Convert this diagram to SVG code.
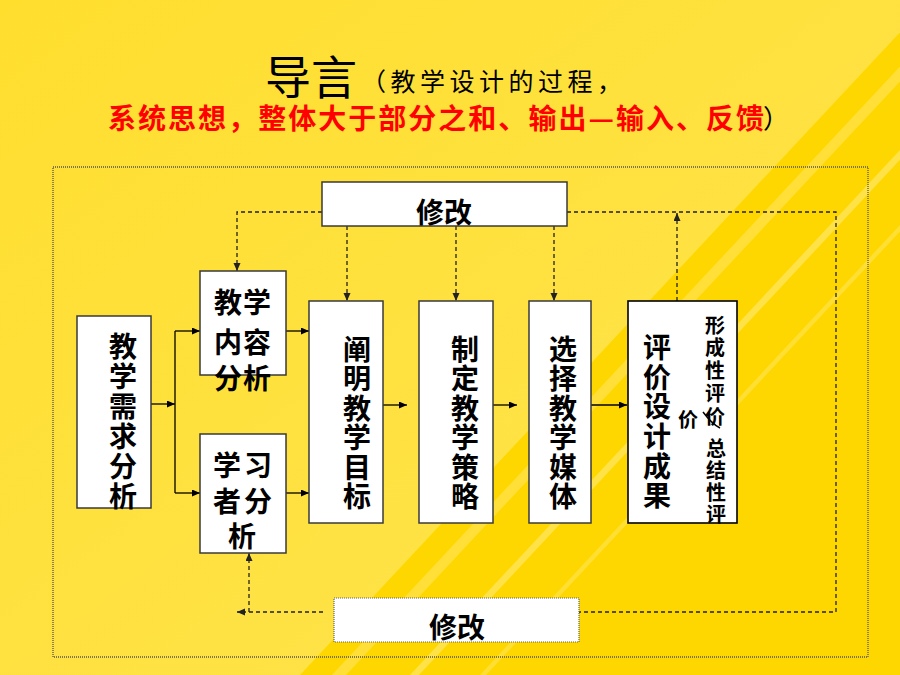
<svg xmlns="http://www.w3.org/2000/svg" width="900" height="675" viewBox="0 0 900 675">
<defs>
<linearGradient id="lightGrad" x1="0" y1="0" x2="1" y2="1">
<stop offset="0" stop-color="#FFDE2E"/>
<stop offset="1" stop-color="#FEE552"/>
</linearGradient>
<marker id="arr" markerUnits="userSpaceOnUse" markerWidth="9" markerHeight="8" refX="8" refY="3.5" orient="auto">
<path d="M0,0 L8,3.5 L0,7 Z" fill="#000"/>
</marker>
<marker id="arrd" markerUnits="userSpaceOnUse" markerWidth="9" markerHeight="8" refX="8" refY="3.5" orient="auto">
<path d="M0,0 L8,3.5 L0,7 Z" fill="#222"/>
</marker>
</defs>
<style>
.box{fill:#fff;stroke:#3a3a3a;stroke-width:1.5}
.boxb{fill:#fff;stroke:#000;stroke-width:1.6}
.boxd{fill:#fff;stroke:#666;stroke-width:1.2;stroke-dasharray:1 1}
.t{font-family:"Noto Sans CJK SC","Noto Sans CJK JP",sans-serif;font-weight:bold;fill:#000;text-anchor:middle;dominant-baseline:central}
.b28{font-size:28px}
.s20{font-size:20px}
.solid{fill:none;stroke:#000;stroke-width:1.3}
.dash{fill:none;stroke:#222;stroke-width:1.3;stroke-dasharray:4 3}
</style>
<rect width="900" height="675" fill="#FFD700"/>
<polygon points="0,0 930,0 300,675 0,675" fill="url(#lightGrad)"/>
<polygon points="962,0 976,0 346,675 332,675" fill="#fff" opacity="0.22"/>
<polygon points="1040,0 1049,0 419,675 410,675" fill="#fff" opacity="0.28"/>
<polygon points="1110,0 1116,0 486,675 480,675" fill="#fff" opacity="0.2"/>

<g id="title">
<text x="265" y="94" font-family="Noto Sans CJK SC,sans-serif" font-size="46" fill="#000">导言</text>
<text x="361" y="91" font-family="Noto Sans CJK SC,sans-serif" font-size="25" fill="#000" textLength="261" lengthAdjust="spacing">（教学设计的过程，</text>
<text x="108" y="129" font-family="Noto Sans CJK SC,sans-serif" font-size="28" font-weight="bold" fill="#FF0000" textLength="656" lengthAdjust="spacing">系统思想，整体大于部分之和、输出—输入、反馈</text>
<text x="763" y="128" font-family="Noto Sans CJK SC,sans-serif" font-size="26" fill="#000">）</text>
</g>

<rect id="frame" x="53" y="167" width="815" height="490" fill="none" stroke="#555" stroke-width="1.3" stroke-dasharray="1 1"/>

<g id="connectors">
<path class="solid" d="M151,404 H175" marker-end="url(#arr)"/>
<path class="solid" d="M175,331 V493"/>
<path class="solid" d="M175,331 H200" marker-end="url(#arr)"/>
<path class="solid" d="M175,493 H200" marker-end="url(#arr)"/>
<path class="solid" d="M286,331 H309" marker-end="url(#arr)"/>
<path class="solid" d="M286,493 H309" marker-end="url(#arr)"/>
<path class="solid" d="M383,405 H407" marker-end="url(#arr)"/>
<path class="solid" d="M493,405 H517" marker-end="url(#arr)"/>
<path class="solid" d="M591,405 H627" marker-end="url(#arr)"/>
<path class="dash" d="M322,212 H237 V271" marker-end="url(#arrd)"/>
<path class="dash" d="M347,226 V301" marker-end="url(#arrd)"/>
<path class="dash" d="M456,226 V301" marker-end="url(#arrd)"/>
<path class="dash" d="M554,226 V301" marker-end="url(#arrd)"/>
<path class="dash" d="M567,212 H836 V612 H579"/>
<path class="dash" d="M677,301 V213" marker-end="url(#arrd)"/>
<path class="dash" d="M323,612 H237" marker-end="url(#arrd)"/>
<path class="dash" d="M249,612 V553" marker-end="url(#arrd)"/>
</g>

<g id="revise-top">
<rect class="box" x="322" y="182" width="245" height="44"/>
<text class="t b28" x="444" y="211">修改</text>
</g>

<g id="needs">
<rect class="box" x="77" y="316" width="74" height="192"/>
<text class="t b28"><tspan x="123" y="345">教</tspan><tspan x="123" y="375">学</tspan><tspan x="123" y="405">需</tspan><tspan x="123" y="435">求</tspan><tspan x="123" y="465">分</tspan><tspan x="123" y="495">析</tspan></text>
</g>

<g id="content">
<rect class="box" x="200" y="271" width="86" height="104"/>
<text class="t b28"><tspan x="228" y="301">教</tspan><tspan x="257" y="301">学</tspan><tspan x="228" y="341">内</tspan><tspan x="257" y="341">容</tspan><tspan x="228" y="377">分</tspan><tspan x="257" y="377">析</tspan></text>
</g>

<g id="learner">
<rect class="box" x="200" y="434" width="86" height="119"/>
<text class="t b28"><tspan x="227" y="464">学</tspan><tspan x="258" y="464">习</tspan><tspan x="227" y="500">者</tspan><tspan x="258" y="500">分</tspan><tspan x="242" y="535">析</tspan></text>
</g>

<g id="objectives">
<rect class="box" x="309" y="301" width="74" height="222"/>
<text class="t b28"><tspan x="357" y="348">阐</tspan><tspan x="357" y="377">明</tspan><tspan x="357" y="407">教</tspan><tspan x="357" y="436">学</tspan><tspan x="357" y="466">目</tspan><tspan x="357" y="495">标</tspan></text>
</g>

<g id="strategy">
<rect class="box" x="419" y="301" width="74" height="222"/>
<text class="t b28"><tspan x="465" y="348">制</tspan><tspan x="465" y="377">定</tspan><tspan x="465" y="407">教</tspan><tspan x="465" y="436">学</tspan><tspan x="465" y="466">策</tspan><tspan x="465" y="495">略</tspan></text>
</g>

<g id="media">
<rect class="box" x="529" y="301" width="62" height="222"/>
<text class="t b28"><tspan x="563" y="348">选</tspan><tspan x="563" y="377">择</tspan><tspan x="563" y="407">教</tspan><tspan x="563" y="436">学</tspan><tspan x="563" y="466">媒</tspan><tspan x="563" y="495">体</tspan></text>
</g>

<g id="evaluate">
<rect class="boxb" x="628" y="301" width="109" height="222"/>
<text class="t b28"><tspan x="657" y="346">评</tspan><tspan x="657" y="376">价</tspan><tspan x="657" y="405">设</tspan><tspan x="657" y="435">计</tspan><tspan x="657" y="465">成</tspan><tspan x="657" y="494">果</tspan></text>
<text class="t s20"><tspan x="715" y="324">形</tspan><tspan x="715" y="346">成</tspan><tspan x="715" y="369">性</tspan><tspan x="715" y="392">评</tspan><tspan x="715" y="415">价</tspan></text>
<text class="t s20" x="688" y="418">价</text>
<path d="M703,412 Q712,424 720,428" fill="none" stroke="#000" stroke-width="1.5"/>
<text class="t s20"><tspan x="716" y="447">总</tspan><tspan x="716" y="469">结</tspan><tspan x="716" y="491">性</tspan><tspan x="716" y="513">评</tspan></text>
</g>

<g id="revise-bottom">
<rect class="boxd" x="334" y="598" width="245" height="44"/>
<text class="t b28" x="457" y="626">修改</text>
</g>
</svg>
